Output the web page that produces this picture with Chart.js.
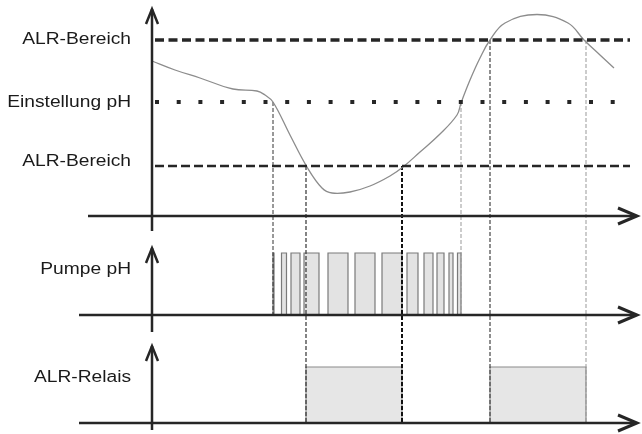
<!DOCTYPE html>
<html>
<head>
<meta charset="utf-8">
<script src="https://cdn.jsdelivr.net/npm/chart.js@4"></script>
<style>
  body { margin: 0; background: #fff; }
  canvas { display: block; }
</style>
</head>
<body>
<canvas id="mycanvas" width="642" height="434"></canvas>
<script>
// pH curve (time / level, y grows downward)
var curveTime = [152, 175, 200, 233, 257, 265, 273, 290, 307, 322, 332, 350, 370, 390, 403, 420, 440, 457, 461, 470, 480, 490, 505, 537, 568, 584, 600, 614];
var curvePh   = [61, 70, 78, 89, 91, 95, 102, 135, 167, 188, 193, 192, 186, 176, 167, 152, 134, 115, 103, 80, 58, 40, 23, 14.5, 23, 40, 55, 68];

// threshold levels: ALR high, setpoint, ALR low
var levelValues = [40, 102, 166];

// pump pulses (on / off times)
var pulseOn  = [273, 281.5, 291, 304, 328, 355, 382, 407, 424, 437, 449, 457.5];
var pulseOff = [274, 286.5, 300, 319, 348, 375, 402, 418, 433, 444, 453, 461];

// ALR relay on / off times
var relayOn  = [306, 490];
var relayOff = [402, 586];

// vertical guide lines
var markerTimes = [273, 306, 402, 461, 490, 586];
var markerFrom  = [102, 166, 166, 102, 40, 40];
var markerTo    = [315, 423, 423, 315, 423, 423];

// row labels
var labelTexts = ['ALR-Bereich', 'Einstellung pH', 'ALR-Bereich', 'Pumpe pH', 'ALR-Relais'];
var labelBase  = [43.5, 107, 166, 274, 382];

var pulseBase = 315, pulseTop = 253;
var relayBase = 423, relayTop = 367;

function squareWave(on, off, base, top) {
	var pts = [];
	for (var i = 0; i < on.length; i++) {
		pts.push({x: on[i], y: base});
		pts.push({x: on[i], y: top});
		pts.push({x: off[i], y: top});
		pts.push({x: off[i], y: base});
	}
	return pts;
}

function seg(x1, y1, x2, y2) {
	return [{x: x1, y: y1}, {x: x2, y: y2}];
}

var ink = '#262626';
var datasets = [];

// axes first so they sit on top
function axisLine(pts, w) {
	datasets.push({data: pts, borderColor: ink, borderWidth: w || 2.5, showLine: true, fill: false, tension: 0});
}
// vertical axes with arrow heads
axisLine(seg(152, 9, 152, 231));
axisLine([{x: 146, y: 24}, {x: 152, y: 9}, {x: 158, y: 24}]);
axisLine(seg(152, 248, 152, 332));
axisLine([{x: 146, y: 263}, {x: 152, y: 248}, {x: 158, y: 263}]);
axisLine(seg(152, 346, 152, 430));
axisLine([{x: 146, y: 361}, {x: 152, y: 346}, {x: 158, y: 361}]);
// horizontal axes with arrow heads
var axisRows = [216, 315, 423];
var axisStart = [88, 79, 79];
for (var a = 0; a < axisRows.length; a++) {
	axisLine(seg(axisStart[a], axisRows[a], 634, axisRows[a]));
	axisLine([{x: 618, y: axisRows[a] - 8}, {x: 637, y: axisRows[a]}, {x: 618, y: axisRows[a] + 8}], 3);
}

// threshold lines
var levelDash = [[9, 4.5], [4, 17.7], [9, 4]];
var levelWidth = [3.5, 4, 2.5];
for (var l = 0; l < levelValues.length; l++) {
	datasets.push({
		data: seg(155, levelValues[l], 630, levelValues[l]),
		borderColor: ink, borderWidth: levelWidth[l], borderDash: levelDash[l],
		showLine: true, fill: false
	});
}

// pH curve
datasets.push({
	data: curveTime.map(function(t, i) { return {x: t, y: curvePh[i]}; }),
	borderColor: '#8c8c8c', borderWidth: 1.3, showLine: true, fill: false,
	tension: 0.4
});

// guide lines
var markerColor = ['#333', '#333', '#111', '#999', '#444', '#999'];
var markerWidth = [1, 1.2, 2, 1, 1.2, 1];
for (var m = 0; m < markerTimes.length; m++) {
	datasets.push({
		data: seg(markerTimes[m], markerFrom[m], markerTimes[m], markerTo[m]),
		borderColor: markerColor[m], borderWidth: markerWidth[m], borderDash: [4, 2],
		showLine: true, fill: false
	});
}

// pump pulses and relay blocks
datasets.push({
	data: squareWave(pulseOn, pulseOff, pulseBase, pulseTop),
	borderColor: '#7a7a7a', borderWidth: 1.2, backgroundColor: '#e3e3e3',
	showLine: true, fill: {value: pulseBase}, tension: 0
});
datasets.push({
	data: squareWave(relayOn, relayOff, relayBase, relayTop),
	borderColor: '#8a8a8a', borderWidth: 1.2, backgroundColor: '#e6e6e6',
	showLine: true, fill: {value: relayBase}, tension: 0
});

var rowLabels = {
	id: 'rowLabels',
	afterDraw: function(chart) {
		var ctx = chart.ctx;
		var ys = chart.scales.y;
		ctx.save();
		ctx.fillStyle = '#1a1a1a';
		ctx.font = '16px "Liberation Sans", Arial, sans-serif';
		ctx.textAlign = 'right';
		ctx.textBaseline = 'alphabetic';
		for (var i = 0; i < labelTexts.length; i++) {
			ctx.save();
			ctx.translate(chart.scales.x.getPixelForValue(131), ys.getPixelForValue(labelBase[i]));
			ctx.scale(1.2, 1);
			ctx.fillText(labelTexts[i], 0, 0);
			ctx.restore();
		}
		ctx.restore();
	}
};

var ctx = document.getElementById('mycanvas');
var chart = new Chart(ctx, {
	type: 'scatter',
	data: {datasets: datasets},
	options: {
		responsive: false,
		animation: false,
		layout: {padding: 0},
		elements: {point: {radius: 0, hoverRadius: 0}, line: {borderCapStyle: 'butt'}},
		scales: {
			x: {type: 'linear', min: 0, max: 642, display: false},
			y: {type: 'linear', min: 0, max: 434, reverse: true, display: false}
		},
		plugins: {legend: {display: false}, tooltip: {enabled: false}}
	},
	plugins: [rowLabels]
});
</script>
</body>
</html>
